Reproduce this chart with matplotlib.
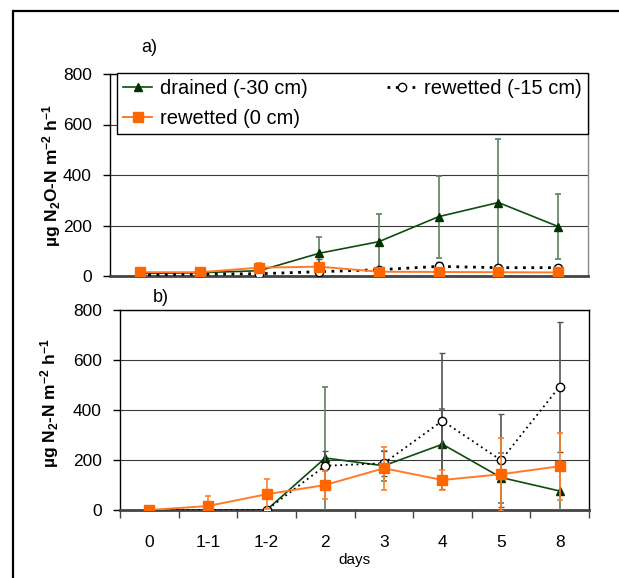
import numpy as np
import matplotlib
matplotlib.use('Agg')
import matplotlib.pyplot as plt
from matplotlib.patches import Rectangle

plt.rcParams['font.family'] = ['Liberation Sans', 'DejaVu Sans']
plt.rcParams['mathtext.fontset'] = 'custom'
plt.rcParams['mathtext.rm'] = 'Liberation Sans'
plt.rcParams['mathtext.bf'] = 'Liberation Sans:bold'
plt.rcParams['mathtext.it'] = 'Liberation Sans:italic'

days = ['0', '1-1', '1-2', '2', '3', '4', '5', '8']

# a) N2O fluxes
n2o_drained = [10, 13, 21, 90, 136, 235, 291, 196]
n2o_drained_err = [3, 4, 6, 64, 109, 162, 251, 130]
n2o_rw15 = [5, 7, 9, 17, 25, 38, 33, 33]
n2o_rw15_err = [2, 2, 3, 49, 8, 19, 12, 12]
n2o_rw0 = [15, 15, 33, 37, 17, 16, 15, 14]
n2o_rw0_err = [3, 3, 17, 8, 4, 3, 3, 3]

# b) N2 fluxes
n2_drained = [0, 0, 0, 208, 177, 263, 130, 76]
n2_drained_err = [0, 0, 0, 283, 60, 140, 100, 85]
n2_rw15 = [0, 0, 0, 177, 187, 357, 199, 494]
n2_rw15_err = [0, 0, 0, 59, 50, 272, 185, 260]
n2_rw0 = [0, 16, 63, 100, 167, 120, 143, 175]
n2_rw0_err = [2, 39, 60, 57, 85, 40, 146, 133]

x = np.arange(len(days))

fig = plt.figure(figsize=(6.19, 5.78), dpi=100)
fig.add_artist(Rectangle((13 / 619, -0.05), 1.1, 1 - 11 / 578 + 0.05,
                         transform=fig.transFigure, fill=False,
                         edgecolor='black', lw=1.6))

axa = fig.add_axes([110 / 619, 1 - 276 / 578, 478 / 619, 202 / 578])
axb = fig.add_axes([120 / 619, 1 - 510 / 578, 469 / 619, 200 / 578])


def draw(ax, dr, dr_e, r15, r15_e, r0, r0_e, dot_lw):
    h1 = ax.errorbar(x, dr, yerr=dr_e, color='#0d4d0d', lw=1.2, marker='^',
                     ms=6, mfc='#003300', mec='#003300', ecolor='#5f805f',
                     elinewidth=1.2, capsize=2.5, capthick=1.2, zorder=3)
    h2 = ax.errorbar(x, r15, yerr=r15_e, color='black', lw=dot_lw, ls=(0, (1, 2)),
                     marker='o', ms=6, mfc='white', mec='black', mew=1,
                     ecolor='#555555', elinewidth=1.2, capsize=2.5, capthick=1.2,
                     zorder=4)
    h3 = ax.errorbar(x, r0, yerr=r0_e, color='#ff7a2a', lw=1.4, marker='s',
                     ms=7, mfc='#ff6600', mec='#ff6600', ecolor='#ff7f2a',
                     elinewidth=1.2, capsize=2.5, capthick=1.2, zorder=5)
    ax.set_xlim(-0.5, 7.5)
    ax.set_ylim(0, 800)
    ax.set_yticks([0, 200, 400, 600, 800])
    ax.yaxis.grid(True, color='#3a3a3a', lw=0.8)
    ax.set_axisbelow(True)
    ax.tick_params(axis='y', direction='out', length=5, width=1,
                   labelsize=12.5, pad=8)
    for s in ['left', 'top', 'right']:
        ax.spines[s].set_linewidth(1)
        ax.spines[s].set_color('black')
    ax.spines['bottom'].set_linewidth(2)
    ax.spines['bottom'].set_color('#444444')
    return h1[0], h2[0], h3[0]


h1, h2, h3 = draw(axa, n2o_drained, n2o_drained_err, n2o_rw15, n2o_rw15_err,
                  n2o_rw0, n2o_rw0_err, 2.0)
draw(axb, n2_drained, n2_drained_err, n2_rw15, n2_rw15_err,
     n2_rw0, n2_rw0_err, 1.3)

axa.spines['right'].set_color('#888888')
axa.set_xticks([])

axb.set_xticks(x)
axb.set_xticklabels(days)
axb.set_xticks(np.arange(-0.5, 8, 1), minor=True)
axb.tick_params(axis='x', which='major', length=0, labelsize=12.5, pad=18)
axb.tick_params(axis='x', which='minor', direction='out', length=6,
                width=1, color='#444444')
axb.set_xlabel('days', fontsize=11, labelpad=2)

leg = axa.legend([h1, h3, h2],
                 ['drained (-30 cm)', 'rewetted (0 cm)', 'rewetted (-15 cm)'],
                 ncol=2, loc='upper left',
                 bbox_to_anchor=(0.0146, 0.705, 0.9854, 0.3),
                 mode='expand', fontsize=14.5, frameon=True, fancybox=False,
                 edgecolor='black', framealpha=1, handlelength=1.45,
                 handletextpad=0.4, columnspacing=2.4, labelspacing=0.55,
                 borderpad=0.3, borderaxespad=0)
leg.get_frame().set_linewidth(1)

fig.text(52 / 619, 1 - 175 / 578,
         'µg N$_\\mathbf{2}$O-N m$^\\mathbf{-2}$ h$^\\mathbf{-1}$',
         rotation=90, ha='center', va='center', fontsize=12.5, fontweight='bold')
fig.text(50 / 619, 1 - 403 / 578,
         'µg N$_\\mathbf{2}$-N m$^\\mathbf{-2}$ h$^\\mathbf{-1}$',
         rotation=90, ha='center', va='center', fontsize=12.5, fontweight='bold')
fig.text(149 / 619, 1 - 48 / 578, 'a)', ha='center', va='center', fontsize=13)
fig.text(161 / 619, 1 - 297 / 578, 'b)', ha='center', va='center', fontsize=13)

fig.savefig('out.png', dpi=100)
